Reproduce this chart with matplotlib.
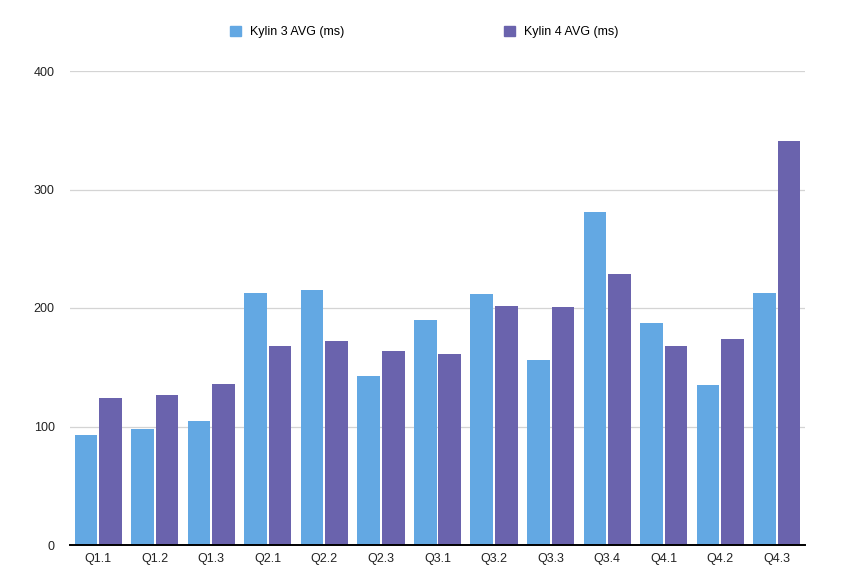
import numpy as np
import matplotlib
matplotlib.use("Agg")
import matplotlib.pyplot as plt
from matplotlib.patches import Patch

# ── data ─────────────────────────────────────────────────────────────────────
queries = ["Q1.1", "Q1.2", "Q1.3", "Q2.1", "Q2.2", "Q2.3", "Q3.1",
           "Q3.2", "Q3.3", "Q3.4", "Q4.1", "Q4.2", "Q4.3"]
kylin3_avg = [93, 98, 105, 213, 215, 143, 190, 212, 156, 281, 187, 135, 213]
kylin4_avg = [124, 127, 136, 168, 172, 164, 161, 202, 201, 229, 168, 174, 341]
yticks = [0, 100, 200, 300, 400]

C3 = "#63a8e3"
C4 = "#6a63ad"

plt.rcParams["font.family"] = ["Liberation Sans", "DejaVu Sans"]

fig = plt.figure(figsize=(8.65, 5.84), dpi=100)
ax = fig.add_axes([70 / 865, 1 - 545 / 584, 735 / 865, 474 / 584])

x = np.arange(len(queries))
w = 0.4
gap = 0.035
ax.bar(x - (w + gap) / 2, kylin3_avg, width=w, color=C3, zorder=2)
ax.bar(x + (w + gap) / 2, kylin4_avg, width=w, color=C4, zorder=2)

ax.set_xlim(-0.5, len(queries) - 0.5)
ax.set_ylim(0, 400)
ax.set_yticks(yticks)
ax.set_xticks(x)
ax.set_xticklabels(queries)
ax.tick_params(axis="both", length=0, labelsize=9, colors="#222222")
ax.tick_params(axis="y", pad=11)
ax.tick_params(axis="x", pad=6)
ax.grid(axis="y", color="#d4d4d4", linewidth=0.9, zorder=0)

for s in ("top", "right", "left"):
    ax.spines[s].set_visible(False)
ax.spines["bottom"].set_color("black")
ax.spines["bottom"].set_linewidth(1.4)
ax.spines["bottom"].set_zorder(3)

handles = [Patch(color=C3, label="Kylin 3 AVG (ms)"),
           Patch(color=C4, label="Kylin 4 AVG (ms)")]
fig.legend(handles=handles, loc="center", ncol=2, frameon=False,
           bbox_to_anchor=(424 / 865, 1 - 32 / 584), fontsize=9,
           handlelength=0.9, handleheight=0.9, handletextpad=0.7,
           columnspacing=12.8)

fig.savefig("out.png", dpi=100)
